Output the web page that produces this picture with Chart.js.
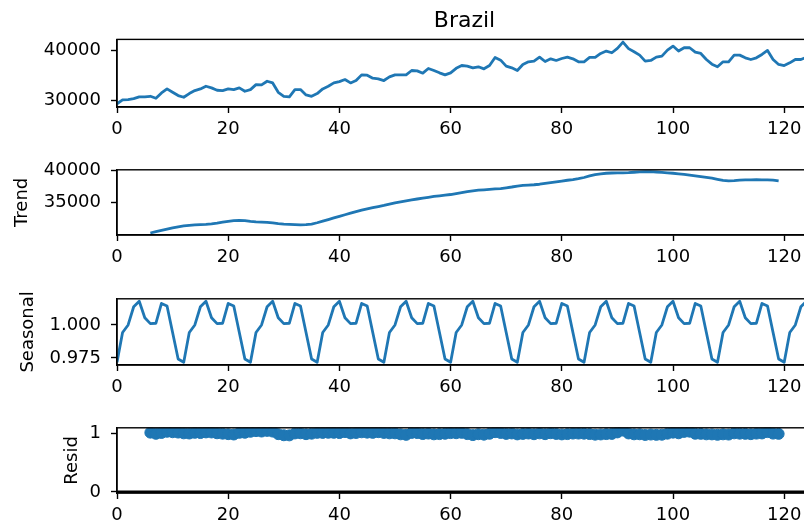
<!DOCTYPE html>
<html>
<head>
<meta charset="utf-8">
<script src="https://cdn.jsdelivr.net/npm/chart.js"></script>
<style>
  html, body { margin: 0; padding: 0; background: #fff; }
  body { width: 804px; height: 527px; overflow: hidden; position: relative; }
  canvas { position: absolute; left: 0; }
</style>
</head>
<body>
<canvas id="observedChart" width="830" height="147" style="top:0px"></canvas>
<canvas id="trendChart" width="830" height="126" style="top:149px"></canvas>
<canvas id="seasonalChart" width="830" height="127" style="top:278px"></canvas>
<canvas id="residChart" width="830" height="126" style="top:407px"></canvas>
<script>
// Brazil, multiplicative seasonal decomposition (period 12)
const observed = [
  29300, 30100, 30150, 30340, 30680, 30680, 30810, 30400, 31490, 32300, 31620, 30950,
  30610, 31350, 31960, 32300, 32840, 32500, 32030, 31960, 32300, 32160, 32500, 31830,
  32160, 33170, 33110, 33850, 33510, 31620, 30810, 30680, 32160, 32160, 31080, 30810,
  31350, 32300, 32840, 33510, 33780, 34190, 33510, 33990, 35140, 35070, 34460, 34330,
  33990, 34730, 35140, 35140, 35140, 36020, 35950, 35480, 36430, 36020, 35550, 35140,
  35550, 36460, 37030, 36900, 36560, 36770, 36360, 37030, 38660, 38110, 36900, 36560,
  36020, 37240, 37780, 37910, 38720, 37840, 38390, 38050, 38450, 38720, 38390, 37780,
  37780, 38660, 38660, 39470, 39950, 39610, 40490, 41770, 40450, 39810, 39130, 37910,
  38050, 38720, 38930, 40140, 40960, 39950, 40620, 40620, 39740, 39470, 38250, 37300,
  36770, 37780, 37780, 39130, 39130, 38590, 38250, 38590, 39270, 40080, 38250, 37240,
  37030, 37570, 38250, 38250, 38700, 39300
];

const trendStart = 6;
const trend = [
  30250, 30450, 30650, 30850, 31050, 31200, 31350, 31450, 31520, 31560, 31600, 31680,
  31800, 31950, 32080, 32180, 32230, 32180, 32050, 31980, 31950, 31900, 31820, 31720,
  31650, 31600, 31560, 31530, 31550, 31650, 31850, 32100, 32350, 32600, 32850, 33100,
  33350, 33580, 33800, 34000, 34200, 34380, 34550, 34750, 34950, 35100, 35250, 35400,
  35550, 35700, 35820, 35950, 36050, 36150, 36250, 36400, 36550, 36700, 36820, 36920,
  36980, 37050, 37120, 37180, 37300, 37420, 37560, 37660, 37720, 37770, 37850, 37980,
  38100, 38230, 38350, 38470, 38580, 38720, 38900, 39150, 39350, 39480, 39560, 39600,
  39620, 39630, 39660, 39720, 39780, 39810, 39800, 39760, 39700, 39630, 39560, 39480,
  39380, 39280, 39170, 39050, 38920, 38790, 38620, 38450, 38380, 38420, 38480, 38520,
  38540, 38550, 38540, 38530, 38480, 38380
];

const seasonal = [
  0.9718, 0.9943, 1.0000, 1.0138, 1.0180, 1.0055, 1.0010, 1.0013, 1.0163, 1.0143, 0.9943, 0.9743,
  0.9718, 0.9943, 1.0000, 1.0138, 1.0180, 1.0055, 1.0010, 1.0013, 1.0163, 1.0143, 0.9943, 0.9743,
  0.9718, 0.9943, 1.0000, 1.0138, 1.0180, 1.0055, 1.0010, 1.0013, 1.0163, 1.0143, 0.9943, 0.9743,
  0.9718, 0.9943, 1.0000, 1.0138, 1.0180, 1.0055, 1.0010, 1.0013, 1.0163, 1.0143, 0.9943, 0.9743,
  0.9718, 0.9943, 1.0000, 1.0138, 1.0180, 1.0055, 1.0010, 1.0013, 1.0163, 1.0143, 0.9943, 0.9743,
  0.9718, 0.9943, 1.0000, 1.0138, 1.0180, 1.0055, 1.0010, 1.0013, 1.0163, 1.0143, 0.9943, 0.9743,
  0.9718, 0.9943, 1.0000, 1.0138, 1.0180, 1.0055, 1.0010, 1.0013, 1.0163, 1.0143, 0.9943, 0.9743,
  0.9718, 0.9943, 1.0000, 1.0138, 1.0180, 1.0055, 1.0010, 1.0013, 1.0163, 1.0143, 0.9943, 0.9743,
  0.9718, 0.9943, 1.0000, 1.0138, 1.0180, 1.0055, 1.0010, 1.0013, 1.0163, 1.0143, 0.9943, 0.9743,
  0.9718, 0.9943, 1.0000, 1.0138, 1.0180, 1.0055, 1.0010, 1.0013, 1.0163, 1.0143, 0.9943, 0.9743,
  0.9718, 0.9943, 1.0000, 1.0138, 1.0180, 1.0055
];

const residStart = 6;
const resid = [
  1.017, 0.997, 1.011, 1.032, 1.024, 1.018, 1.005, 1.002, 1.014, 1.010, 1.021, 1.020,
  1.006, 0.999, 0.991, 0.985, 1.014, 1.015, 1.032, 1.043, 1.036, 1.047, 1.035, 0.991,
  0.972, 0.970, 1.003, 1.006, 0.991, 0.999, 1.013, 1.012, 1.015, 1.014, 1.010, 1.027,
  1.004, 1.011, 1.023, 1.017, 1.013, 1.025, 1.012, 1.005, 1.005, 0.988, 0.979, 1.012,
  1.010, 0.993, 1.001, 0.988, 0.992, 0.998, 1.009, 1.007, 1.013, 0.992, 0.975, 0.990,
  0.982, 0.998, 1.025, 1.011, 0.995, 1.003, 0.987, 0.995, 1.002, 0.990, 1.005, 0.991,
  1.007, 0.994, 0.987, 0.992, 1.001, 1.001, 0.999, 0.993, 0.982, 0.986, 0.992, 0.995,
  1.021, 1.053, 1.003, 0.988, 0.989, 0.977, 0.984, 0.979, 0.981, 0.999, 1.017, 1.006,
  1.030, 1.033, 0.998, 0.996, 0.988, 0.987, 0.980, 0.988, 0.984, 1.005, 0.999, 0.996,
  0.991, 1.000, 1.003, 1.026, 1.000, 0.996
];
const residBaseline = 0;

const xTicks = [0, 20, 40, 60, 80, 100, 120];
const xMin = 0, xMax = 125;

const BLUE = '#1f77b4';
Chart.defaults.font.family = "'DejaVu Sans', sans-serif";
Chart.defaults.font.size = 18;
Chart.defaults.color = '#000';

// matplotlib-style box around each axes
const frame = {
  id: 'frame',
  afterDatasetsDraw(chart) {
    const { ctx, chartArea: a } = chart;
    ctx.save();
    ctx.strokeStyle = '#000';
    ctx.lineWidth = 1.4;
    ctx.strokeRect(a.left, a.top, a.right - a.left, a.bottom - a.top);
    ctx.restore();
  }
};

const toPoints = (arr, start) => arr.map((v, k) => ({ x: start + k, y: v }));

const tickGrid = { drawOnChartArea: false, tickLength: 6, tickWidth: 1.4, tickColor: '#000', color: '#000' };
const spine = { display: true, color: '#000', width: 1.4 };

function makePanel(id, datasets, o) {
  return new Chart(document.getElementById(id), {
    type: 'line',
    data: { datasets },
    plugins: [frame],
    options: {
      responsive: false,
      animation: false,
      events: [],
      layout: { padding: { top: o.padTop, right: 18, bottom: 0, left: 0 } },
      plugins: {
        legend: { display: false },
        tooltip: { enabled: false },
        title: o.title
          ? { display: true, text: o.title, fullSize: false, color: '#000',
              font: { size: 22, weight: 'normal' }, padding: { top: 8, bottom: 5 } }
          : { display: false }
      },
      scales: {
        x: {
          type: 'linear', min: xMin, max: xMax,
          afterBuildTicks: s => { s.ticks = xTicks.map(v => ({ value: v })); },
          afterFit: s => { s.height = 40; },
          grid: tickGrid,
          border: spine,
          ticks: { color: '#000', padding: 6, maxRotation: 0, callback: v => String(v) }
        },
        y: {
          type: 'linear', min: o.yMin, max: o.yMax,
          afterBuildTicks: s => { s.ticks = o.yTicks.map(v => ({ value: v })); },
          afterFit: s => { s.width = 117; },
          grid: tickGrid,
          border: spine,
          ticks: { color: '#000', padding: 10, callback: o.fmt || (v => String(v)) },
          title: o.yTitle
            ? { display: true, text: o.yTitle, color: '#000', font: { size: 18 },
                padding: { top: o.yTitlePad, bottom: 0 } }
            : { display: false }
        }
      }
    }
  });
}

const lineStyle = {
  borderColor: BLUE, borderWidth: 2.8, pointRadius: 0, tension: 0,
  borderJoinStyle: 'round', fill: false
};

makePanel('observedChart',
  [{ data: toPoints(observed, 0), ...lineStyle }],
  { padTop: 0, title: 'Brazil', yMin: 28640, yMax: 42310, yTicks: [30000, 40000] });

makePanel('trendChart',
  [{ data: toPoints(trend, trendStart), ...lineStyle }],
  { padTop: 20, yMin: 29940, yMax: 40100, yTicks: [35000, 40000], yTitle: 'Trend', yTitlePad: 12 });

makePanel('seasonalChart',
  [{ data: toPoints(seasonal, 0), ...lineStyle }],
  { padTop: 20, yMin: 0.9697, yMax: 1.0198, yTicks: [0.975, 1.0], yTitle: 'Seasonal', yTitlePad: 18,
    fmt: v => v.toFixed(3) });

makePanel('residChart',
  [
    { data: toPoints(resid, residStart), showLine: false, pointRadius: 5.5,
      pointBackgroundColor: BLUE, pointBorderColor: BLUE, pointBorderWidth: 1, order: 1 },
    { data: [{ x: xMin, y: residBaseline }, { x: xMax, y: residBaseline }],
      borderColor: '#000', borderWidth: 2.7, pointRadius: 0, order: 2 }
  ],
  { padTop: 20, yMin: -0.02, yMax: 1.10, yTicks: [0, 1], yTitle: 'Resid', yTitlePad: 62 });
</script>
</body>
</html>
